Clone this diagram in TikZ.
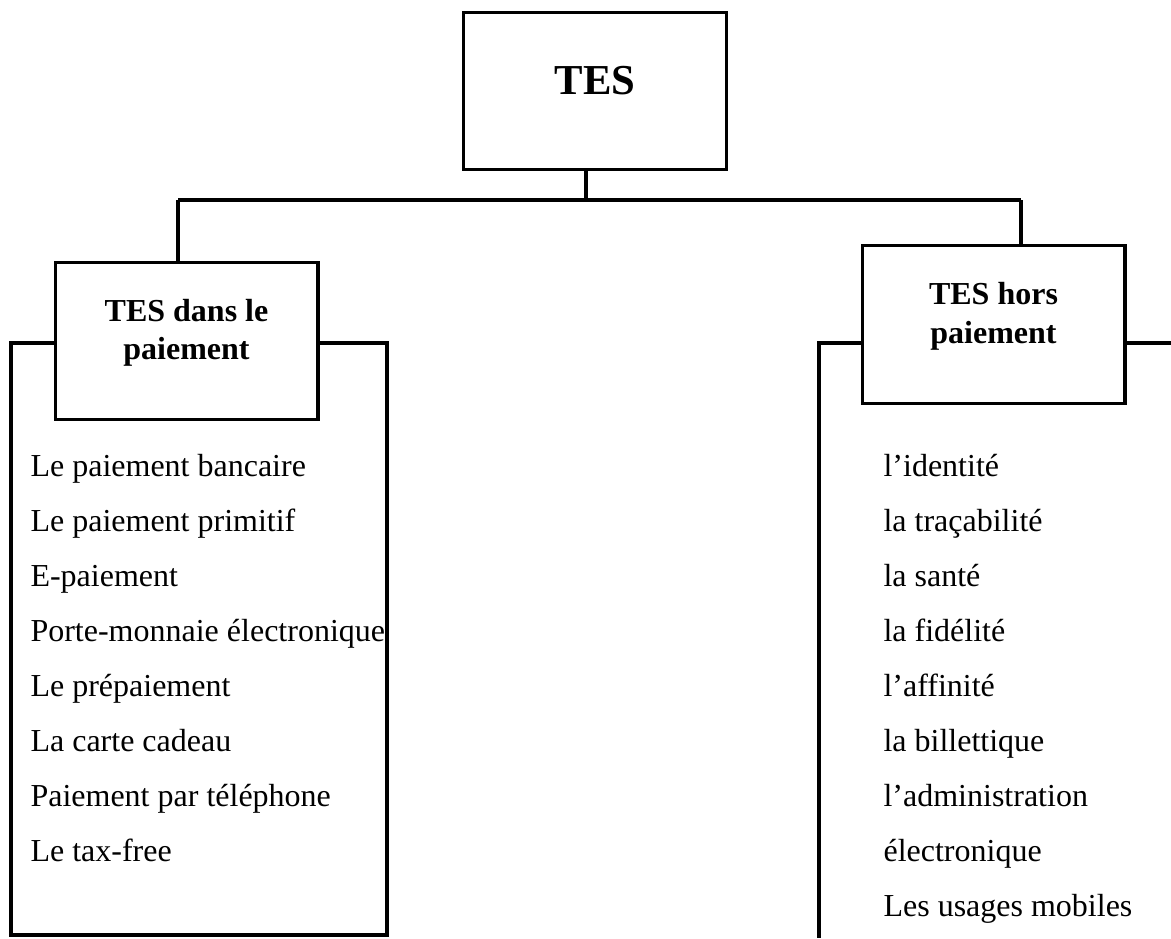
\documentclass[tikz,border=0pt]{standalone}
\usepackage{fontspec}
\setmainfont{Liberation Serif}
\begin{document}
\begin{tikzpicture}[x=0.375pt,y=-0.375pt,line width=1.15pt,
  box/.style={draw,minimum width=98.6pt,minimum height=59.2pt,inner sep=0pt,outer sep=0pt},
  head/.style={anchor=base,inner sep=0pt,font=\fontsize{12}{14}\selectfont\bfseries},
  title/.style={anchor=base,inner sep=0pt,font=\fontsize{16}{19}\selectfont\bfseries},
  item/.style={anchor=base west,inner sep=0pt,font=\fontsize{12}{14}\selectfont}]
\useasboundingbox (0,0) rectangle (1171,938);
% boxes
\node[box] (tes) at (595,91) {};
\node[box] (lbox) at (186.5,341) {};
\node[box] (rbox) at (993.5,324.5) {};
% texts in boxes
\node[title] (testxt) at (595,94) {TES};
\node[head] (l1) at (186.5,321) {TES dans le};
\node[head] (l2) at (186.5,359) {paiement};
\node[head] (r1) at (993.5,304) {TES hors};
\node[head] (r2) at (993.5,343) {paiement};
% connectors
\coordinate (hm) at (586,200);
\coordinate (hl) at (178,200);
\coordinate (hr) at (1021,200);
\draw (tes.south -| hm) -- (hm);
\draw (hl) -- (hr);
\draw (hl) -- (hl |- lbox.north);
\draw (hr) -- (hr |- rbox.north);
% left frame
\coordinate (lf1) at (11,343);
\coordinate (lf2) at (11,935);
\coordinate (lf3) at (387,935);
\coordinate (lf4) at (387,343);
\draw (lbox.west |- lf1) -- (lf1) -- (lf2) -- (lf3) -- (lf4) -- (lbox.east |- lf4);
% right frame
\coordinate (rf1) at (819,343);
\coordinate (rf2) at (819,938);
\coordinate (rf3) at (1171,343);
\draw (rbox.west |- rf1) -- (rf1) -- (rf2);
\draw (rbox.east |- rf3) -- (rf3);
% lists
\foreach \t [count=\i] in {Le paiement bancaire,Le paiement primitif,E-paiement,Porte-monnaie électronique,Le prépaiement,La carte cadeau,Paiement par téléphone,Le tax-free}
  \node[item] (li\i) at (29,{421+55*\i}) {\t};
\foreach \t [count=\i] in {l’identité,la traçabilité,la santé,la fidélité,l’affinité,la billettique,l’administration,électronique,Les usages mobiles}
  \node[item] (ri\i) at (882,{421+55*\i}) {\t};
\end{tikzpicture}
\end{document}
